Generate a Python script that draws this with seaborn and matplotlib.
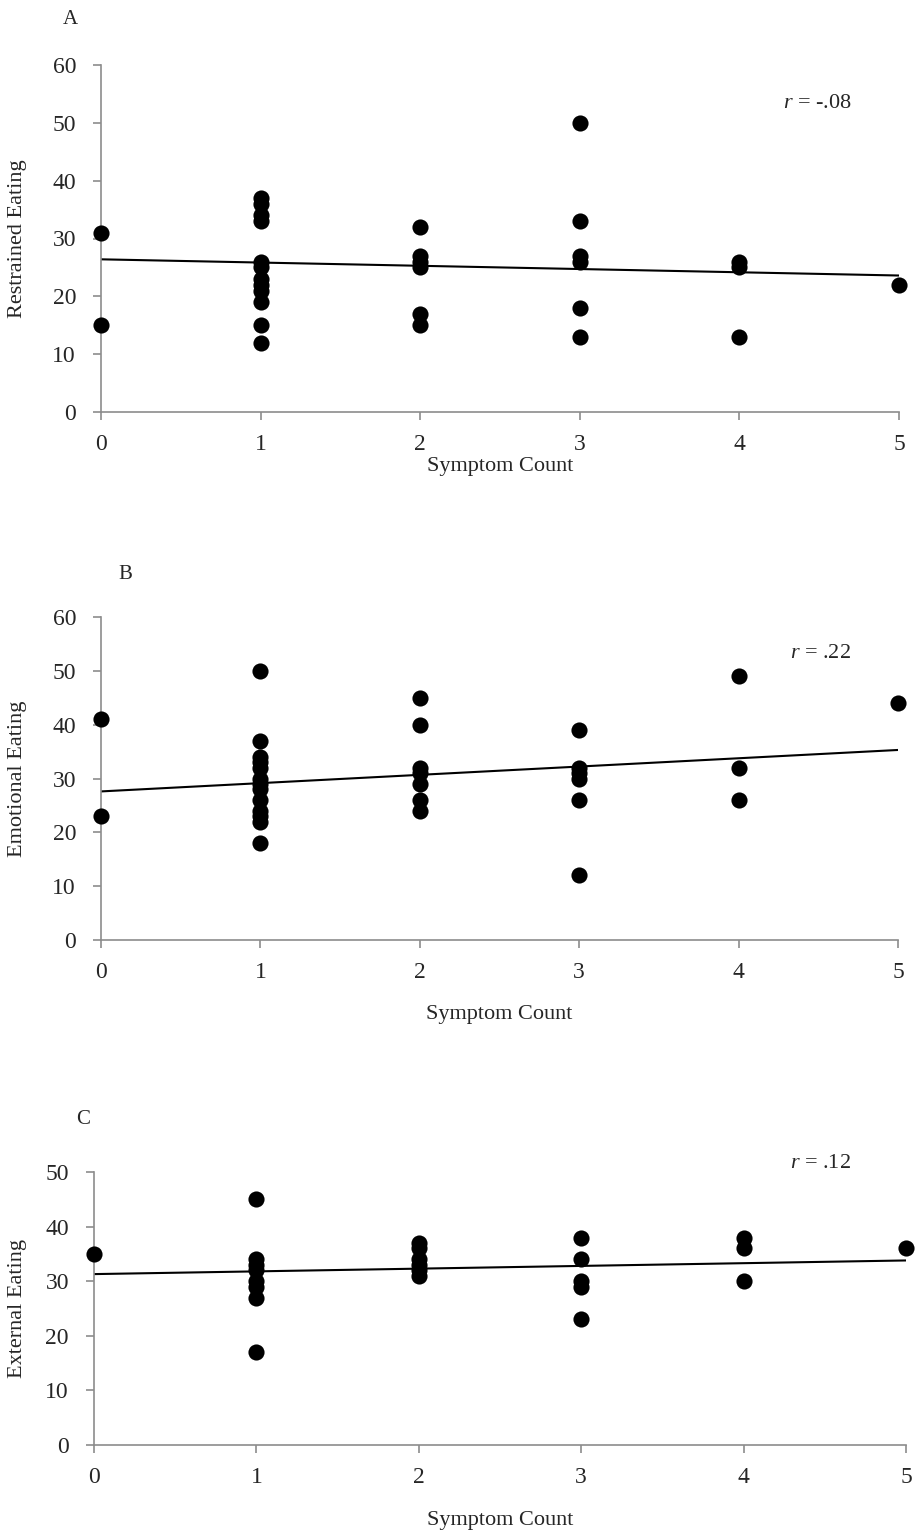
import numpy as np
import pandas as pd
import matplotlib.pyplot as plt
import seaborn as sns

# symptom count groups and scores
restrained = {
    0: [31, 15],
    1: [37, 36, 34, 33, 26, 25, 23, 22, 21, 19, 15, 12],
    2: [32, 27, 26, 25, 17, 15],
    3: [50, 33, 27, 26, 18, 13],
    4: [26, 25, 13],
    5: [22],
}
emotional = {
    0: [41, 23],
    1: [50, 37, 34, 33, 32, 30, 29, 28, 26, 24, 23, 22, 18],
    2: [45, 40, 32, 31, 29, 26, 24],
    3: [39, 32, 31, 30, 26, 12],
    4: [49, 32, 26],
    5: [44],
}
external = {
    0: [35],
    1: [45, 34, 33, 32, 30, 29, 27, 17],
    2: [37, 36, 34, 33, 32, 31],
    3: [38, 34, 30, 29, 23],
    4: [38, 36, 30],
    5: [36],
}

# fitted line values at symptom count 0 and 5
trend_x = [0, 5]
restrained_trend = [26.4, 23.6]
emotional_trend = [27.6, 35.3]
external_trend = [31.3, 33.8]

panels = [
    ("A", restrained, restrained_trend, "Restrained Eating", "= -.08", 60),
    ("B", emotional, emotional_trend, "Emotional Eating", "= .22", 60),
    ("C", external, external_trend, "External Eating", "= .12", 50),
]


def to_frame(groups):
    rows = [(k, v) for k, vals in groups.items() for v in vals]
    return pd.DataFrame(rows, columns=["count", "score"])


sns.set_style("white")
plt.rcParams["font.family"] = ["Liberation Serif", "DejaVu Serif"]
plt.rcParams["mathtext.fontset"] = "custom"
plt.rcParams["mathtext.it"] = "Liberation Serif:italic"
plt.rcParams["mathtext.rm"] = "Liberation Serif"

W, H = 919, 1535
fig = plt.figure(figsize=(W / 100, H / 100), dpi=100)

# axes boxes in pixels: left, right, top, bottom
boxes = [(101, 899, 65, 412), (101, 898, 617, 940), (94, 906, 1172, 1445)]
xlabel_y = [467, 1015, 1520]
letter_pos = [(70, 20), (125, 575), (83, 1120)]
r_pos = [(783, 103), (790, 654), (790, 1163)]

gray = "#8c8c8c"

for (letter, groups, trend, ylab, rtxt, ymax), (l, r, t, b), xly, lp, rp in zip(
    panels, boxes, xlabel_y, letter_pos, r_pos
):
    ax = fig.add_axes([l / W, 1 - b / H, (r - l) / W, (b - t) / H])
    df = to_frame(groups)
    trend_df = pd.DataFrame({"count": trend_x, "score": trend})
    sns.lineplot(data=trend_df, x="count", y="score", ax=ax,
                 color="black", linewidth=1.5, zorder=2)
    sns.scatterplot(data=df, x="count", y="score", ax=ax, color="black",
                    s=135, edgecolor="black", linewidth=0, clip_on=False,
                    zorder=3)
    ax.set_xlim(0, 5)
    ax.set_ylim(0, ymax)
    ax.set_yticks(np.arange(0, ymax + 1, 10))
    ax.set_xticks(range(6))
    for side in ["top", "right"]:
        ax.spines[side].set_visible(False)
    for side in ["left", "bottom"]:
        ax.spines[side].set_color(gray)
        ax.spines[side].set_linewidth(1.2)
    ax.tick_params(axis="both", direction="out", length=6, width=1.2,
                   color=gray, labelsize=17, left=True, bottom=True)
    ax.tick_params(axis="y", pad=12)
    ax.tick_params(axis="x", pad=10)
    ax.set_xlabel("Symptom Count", fontsize=16, va="center")
    ax.set_ylabel(ylab, fontsize=16, va="center")
    ax.xaxis.set_label_coords((l + r) / 2 / W, 1 - xly / H,
                              transform=fig.transFigure)
    ax.yaxis.set_label_coords(18 / W, 1 - (t + b) / 2 / H,
                              transform=fig.transFigure)
    fig.text(rp[0] / W, 1 - rp[1] / H, "$r$ " + rtxt, fontsize=16,
             va="center", ha="left")
    fig.text(lp[0] / W, 1 - lp[1] / H, letter, fontsize=15,
             va="center", ha="center")

fig.savefig("out.png", dpi=100)
